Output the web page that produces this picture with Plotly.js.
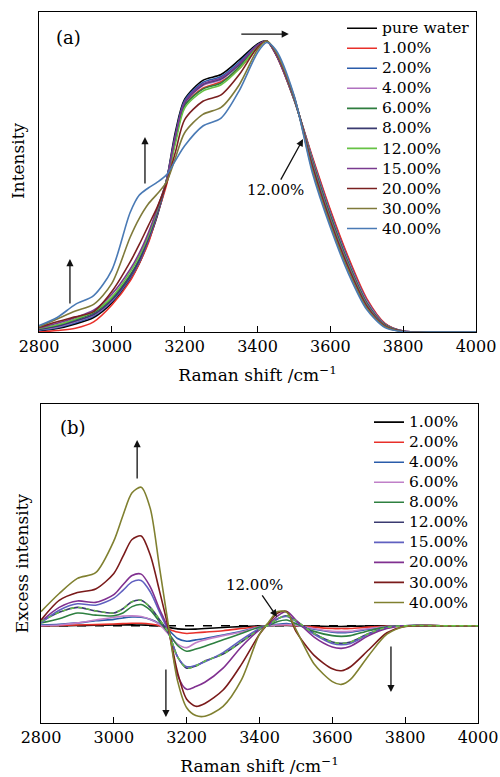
<!DOCTYPE html>
<html>
<head>
<meta charset="utf-8">
<script src="https://cdn.plot.ly/plotly-3.0.1.min.js"></script>
<style>html,body{margin:0;padding:0;background:#fff;}#chart{width:500px;height:777px;}</style>
</head>
<body>
<div id="chart"></div>
<script>
// ---------- Panel (a): Raman intensity ----------
const xA = [2800, 2850, 2900, 2950, 3000, 3050, 3075, 3100, 3125, 3150, 3175, 3200, 3250, 3300, 3350, 3400, 3425, 3450, 3500, 3550, 3600, 3650, 3700, 3750, 3800, 3900, 4000];
const labelsA = ["pure water", "1.00%", "2.00%", "4.00%", "6.00%", "8.00%", "12.00%", "15.00%", "20.00%", "30.00%", "40.00%"];
const aPure = [0.004, 0.012, 0.028, 0.05, 0.10, 0.18, 0.235, 0.31, 0.40, 0.52, 0.69, 0.80, 0.865, 0.885, 0.935, 0.99, 1.0, 0.955, 0.80, 0.60, 0.415, 0.25, 0.11, 0.028, 0.003, 0, 0];
const a1 = [0.0, 0.005, 0.013, 0.035, 0.093, 0.175, 0.235, 0.305, 0.405, 0.505, 0.66, 0.78, 0.838, 0.86, 0.905, 0.978, 1.0, 0.955, 0.80, 0.605, 0.42, 0.255, 0.115, 0.03, 0.003, 0, 0];
const a2 = [0.006, 0.015, 0.032, 0.055, 0.105, 0.185, 0.24, 0.315, 0.405, 0.52, 0.68, 0.795, 0.858, 0.878, 0.928, 0.987, 1.0, 0.957, 0.802, 0.598, 0.41, 0.245, 0.108, 0.027, 0.003, 0, 0];
const a4 = [0.008, 0.017, 0.035, 0.058, 0.108, 0.19, 0.245, 0.32, 0.41, 0.52, 0.665, 0.785, 0.847, 0.867, 0.918, 0.984, 1.0, 0.958, 0.803, 0.595, 0.405, 0.24, 0.105, 0.026, 0.003, 0, 0];
const a6 = [0.01, 0.022, 0.042, 0.065, 0.115, 0.195, 0.25, 0.325, 0.415, 0.52, 0.66, 0.778, 0.835, 0.856, 0.912, 0.982, 1.0, 0.96, 0.804, 0.59, 0.40, 0.235, 0.10, 0.025, 0.002, 0, 0];
const a8 = [0.01, 0.02, 0.038, 0.06, 0.11, 0.19, 0.245, 0.32, 0.41, 0.52, 0.67, 0.787, 0.85, 0.87, 0.92, 0.985, 1.0, 0.958, 0.805, 0.587, 0.395, 0.232, 0.098, 0.024, 0.002, 0, 0];
const a12 = [0.012, 0.025, 0.045, 0.07, 0.12, 0.205, 0.26, 0.33, 0.42, 0.52, 0.65, 0.77, 0.828, 0.85, 0.905, 0.98, 1.0, 0.96, 0.806, 0.583, 0.39, 0.228, 0.095, 0.023, 0.002, 0, 0];
const a15 = [0.014, 0.03, 0.05, 0.075, 0.13, 0.215, 0.27, 0.34, 0.425, 0.52, 0.675, 0.79, 0.853, 0.873, 0.922, 0.986, 1.0, 0.958, 0.808, 0.578, 0.385, 0.224, 0.092, 0.022, 0.002, 0, 0];
const a20 = [0.016, 0.035, 0.052, 0.07, 0.139, 0.24, 0.30, 0.365, 0.43, 0.51, 0.62, 0.73, 0.793, 0.815, 0.885, 0.978, 1.0, 0.962, 0.81, 0.57, 0.378, 0.218, 0.088, 0.02, 0.002, 0, 0];
const a30 = [0.018, 0.045, 0.072, 0.095, 0.167, 0.325, 0.39, 0.44, 0.475, 0.515, 0.60, 0.685, 0.748, 0.772, 0.85, 0.97, 1.0, 0.965, 0.812, 0.56, 0.37, 0.21, 0.083, 0.018, 0.001, 0, 0];
const a40 = [0.022, 0.05, 0.095, 0.125, 0.213, 0.41, 0.47, 0.495, 0.515, 0.54, 0.59, 0.64, 0.708, 0.735, 0.83, 0.96, 0.995, 0.97, 0.815, 0.55, 0.36, 0.20, 0.077, 0.015, 0.001, 0, 0];
const colorsA = ["#000000", "#e8302a", "#2a5caa", "#b070c0", "#2e7d3e", "#3a3a70", "#66c244", "#7a3a90", "#7a2020", "#7f7a3a", "#4a7ab5"];

// ---------- Panel (b): excess intensity ----------
const xB = [2800, 2850, 2900, 2950, 3000, 3025, 3050, 3075, 3100, 3125, 3150, 3175, 3200, 3225, 3250, 3300, 3350, 3400, 3425, 3450, 3475, 3500, 3550, 3600, 3625, 3650, 3700, 3750, 3800, 3900, 4000];
const labelsB = ["1.00%", "2.00%", "4.00%", "6.00%", "8.00%", "12.00%", "15.00%", "20.00%", "30.00%", "40.00%"];
const b1 = [0, 0, 0.002, 0.003, 0.005, 0.006, 0.006, 0.005, 0.003, 0.0, -0.012, -0.022, -0.025, -0.024, -0.02, -0.013, -0.006, -0.001, 0, 0.002, 0.002, 0, -0.003, -0.005, -0.005, -0.004, -0.002, 0, 0, 0, 0];
const b2 = [0.0, 0.002, 0.005, 0.008, 0.012, 0.015, 0.017, 0.017, 0.012, 0.0, -0.025, -0.045, -0.055, -0.05, -0.045, -0.035, -0.02, -0.005, 0, 0.005, 0.005, 0.0, -0.01, -0.02, -0.02, -0.02, -0.01, -0.002, 0, 0, 0];
const b4 = [0.005, 0.01, 0.02, 0.035, 0.045, 0.055, 0.062, 0.06, 0.045, 0.015, -0.03, -0.09, -0.11, -0.10, -0.09, -0.066, -0.04, -0.008, 0.0, 0.01, 0.015, 0.005, -0.025, -0.045, -0.05, -0.045, -0.025, -0.005, 0, 0, 0];
const b6 = [0.0, 0.005, 0.02, 0.04, 0.06, 0.068, 0.07, 0.065, 0.045, 0.01, -0.06, -0.13, -0.155, -0.12, -0.10, -0.07, -0.045, -0.008, 0.0, 0.005, 0.008, 0.003, -0.02, -0.04, -0.042, -0.04, -0.02, -0.005, 0, 0, 0];
const b8 = [0.02, 0.05, 0.09, 0.075, 0.07, 0.09, 0.135, 0.15, 0.11, 0.03, -0.05, -0.14, -0.18, -0.165, -0.145, -0.10, -0.055, -0.01, 0.003, 0.03, 0.04, 0.015, -0.04, -0.07, -0.075, -0.07, -0.035, -0.008, 0, 0, 0];
const b12 = [0.03, 0.095, 0.13, 0.105, 0.09, 0.12, 0.17, 0.18, 0.13, 0.045, -0.05, -0.22, -0.30, -0.285, -0.25, -0.20, -0.115, -0.025, 0.005, 0.05, 0.07, 0.035, -0.055, -0.115, -0.125, -0.115, -0.055, -0.012, 0, 0, 0];
const b15 = [0.02, 0.11, 0.155, 0.145, 0.195, 0.25, 0.31, 0.32, 0.24, 0.10, -0.04, -0.22, -0.29, -0.28, -0.255, -0.19, -0.10, -0.02, 0.005, 0.05, 0.065, 0.03, -0.06, -0.125, -0.135, -0.125, -0.06, -0.015, 0, 0, 0];
const b20 = [0.03, 0.13, 0.175, 0.165, 0.22, 0.29, 0.355, 0.365, 0.275, 0.12, -0.03, -0.35, -0.45, -0.43, -0.40, -0.30, -0.15, -0.03, 0.01, 0.07, 0.10, 0.04, -0.08, -0.15, -0.16, -0.145, -0.07, -0.02, 0, 0, 0];
const b30 = [0.04, 0.18, 0.235, 0.26, 0.37, 0.49, 0.61, 0.635, 0.50, 0.25, -0.02, -0.33, -0.52, -0.57, -0.55, -0.455, -0.275, -0.06, 0.02, 0.09, 0.10, -0.04, -0.21, -0.305, -0.318, -0.29, -0.17, -0.05, -0.005, 0, 0];
const b40 = [0.10, 0.228, 0.335, 0.375, 0.60, 0.78, 0.94, 0.98, 0.83, 0.42, 0.0, -0.39, -0.58, -0.635, -0.64, -0.57, -0.385, -0.06, 0.025, 0.10, 0.095, -0.025, -0.27, -0.395, -0.415, -0.38, -0.21, -0.06, -0.005, 0, 0];
const colorsB = ["#000000", "#e8302a", "#2a5caa", "#c080c8", "#2e8040", "#3a3a70", "#6060c0", "#803090", "#7a1a1a", "#808030"];
const xBase = [2800, 4000];
const yBase = [0, 0];

const FONT = "DejaVu Serif";
const seriesA = [aPure, a1, a2, a4, a6, a8, a12, a15, a20, a30, a40];
const seriesB = [b1, b2, b4, b6, b8, b12, b15, b20, b30, b40];
// legend label text drawn at 15.5px while the row pitch follows the smaller legend font
const legendLabel = s => '<span style="font-size:15.5px">' + s + '</span>';

const traces = [];
seriesA.forEach((ys, i) => {
  traces.push({x: xA, y: ys, type: 'scatter', mode: 'lines', name: legendLabel(labelsA[i]),
    line: {color: colorsA[i], width: 1.6, shape: 'spline', smoothing: 0.8},
    xaxis: 'x', yaxis: 'y', legend: 'legend'});
});
traces.push({x: xBase, y: yBase, type: 'scatter', mode: 'lines', showlegend: false,
  line: {color: '#000', width: 1.4, dash: 'dash'}, xaxis: 'x2', yaxis: 'y2', hoverinfo: 'skip'});
seriesB.forEach((ys, i) => {
  traces.push({x: xB, y: ys, type: 'scatter', mode: 'lines', name: legendLabel(labelsB[i]),
    line: {color: colorsB[i], width: 1.6, shape: 'spline', smoothing: 0.8},
    xaxis: 'x2', yaxis: 'y2', legend: 'legend2'});
});
// green dashed overlay on the 12.00% curve in (b)
traces.push({x: xB, y: b12, type: 'scatter', mode: 'lines', showlegend: false,
  line: {color: '#66c244', width: 1.4, dash: '4px,4px', shape: 'spline', smoothing: 0.8},
  xaxis: 'x2', yaxis: 'y2', hoverinfo: 'skip'});

const axisX = (domain, anchor) => ({
  domain: domain, anchor: anchor, range: [2800, 4000], tick0: 2800, dtick: 200,
  ticks: 'inside', ticklen: 6, tickwidth: 1.2, tickcolor: '#000',
  showline: true, mirror: true, linecolor: '#000', linewidth: 1.2,
  showgrid: false, zeroline: false,
  tickfont: {family: FONT, size: 16, color: '#000'},
  title: {text: 'Raman shift /cm<sup>−1</sup>', font: {family: FONT, size: 17, color: '#000'}, standoff: 13}
});
const axisY = (domain, anchor, range, title) => ({
  domain: domain, anchor: anchor, range: range,
  showticklabels: false, ticks: '', showline: true, mirror: true,
  linecolor: '#000', linewidth: 1.2, showgrid: false, zeroline: false,
  title: {text: title, font: {family: FONT, size: 17, color: '#000'}, standoff: 6}
});

const arrow = (xref, yref, x, y, ax, ay, text) => ({
  xref: xref, yref: yref, x: x, y: y, ax: ax, ay: ay, axref: 'pixel', ayref: 'pixel',
  text: text || '', showarrow: true, arrowhead: 2, arrowsize: 1.1, arrowwidth: 1.3, arrowcolor: '#111',
  font: {family: FONT, size: 15, color: '#000'}
});

const legendBase = {xanchor: 'left', yanchor: 'top', bgcolor: 'rgba(0,0,0,0)',
  font: {family: FONT, size: 13.1, color: '#000'}, tracegroupgap: 0, borderwidth: 0};

const yaxisA = axisY([0.5727, 0.9846], 'x', [0, 1.1], '');

const layout = {
  width: 500, height: 777,
  margin: {l: 0, r: 0, t: 0, b: 0},
  paper_bgcolor: '#fff', plot_bgcolor: '#fff',
  font: {family: FONT, color: '#000'},
  showlegend: true,
  xaxis: axisX([0.078, 0.952], 'y'),
  yaxis: yaxisA,
  xaxis2: axisX([0.082, 0.956], 'y2'),
  yaxis2: axisY([0.0695, 0.48], 'x2', [-0.688, 1.568], 'Excess intensity'),
  legend: Object.assign({x: 0.684, y: 0.983}, legendBase),
  legend2: Object.assign({x: 0.738, y: 0.476}, legendBase),
  annotations: [
    {xref: 'paper', yref: 'paper', x: 18/500, y: 1 - 161/777, xanchor: 'center', yanchor: 'middle',
      textangle: -90, text: 'Intensity', showarrow: false, font: {family: FONT, size: 17, color: '#000'}},
    {xref: 'paper', yref: 'paper', x: 68/500, y: 1 - 38/777, xanchor: 'center', yanchor: 'middle',
      text: '(a)', showarrow: false, font: {family: FONT, size: 18, color: '#000'}},
    {xref: 'paper', yref: 'paper', x: 73/500, y: 1 - 427/777, xanchor: 'center', yanchor: 'middle',
      text: '(b)', showarrow: false, font: {family: FONT, size: 18, color: '#000'}},
    arrow('x', 'y', 3486, 1.024, -49, 0),
    arrow('x', 'y', 3091, 0.670, 0, 48),
    arrow('x', 'y', 2885, 0.251, 0, 46),
    arrow('x', 'y', 3525, 0.663, -28, 51, '12.00%'),
    arrow('x2', 'y2', 3064, 1.313, 0, 40),
    arrow('x2', 'y2', 3143, -0.646, 0, -49),
    arrow('x2', 'y2', 3761, -0.469, 0, -47),
    arrow('x2', 'y2', 3448, 0.062, -22, -32, '12.00%')
  ]
};

Plotly.newPlot('chart', traces, layout, {staticPlot: true, displayModeBar: false});
</script>
</body>
</html>
